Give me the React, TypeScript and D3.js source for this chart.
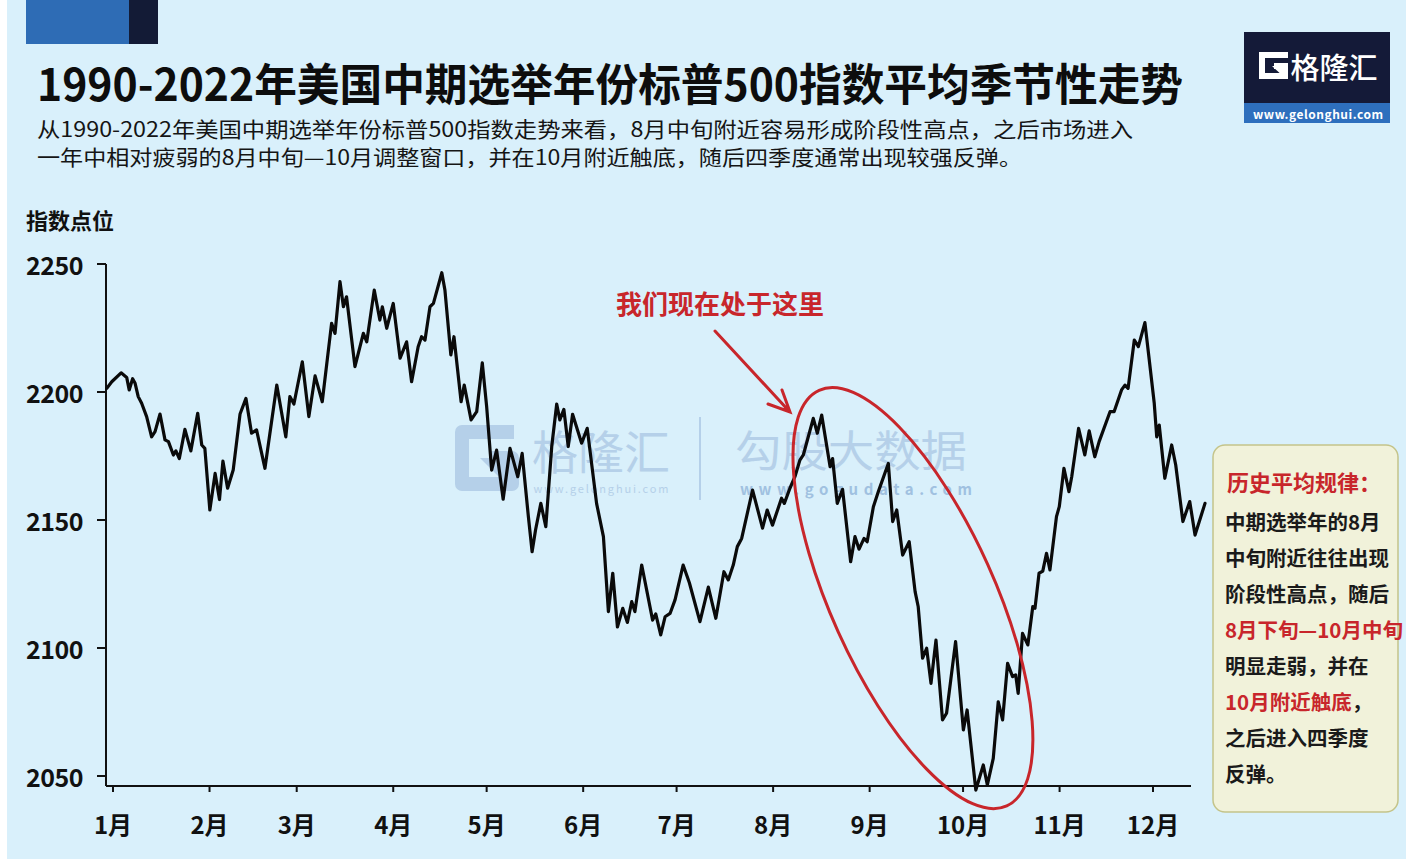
import { useRef, useEffect } from "react";
import * as d3 from "d3";

const MONTHS = ["1月", "2月", "3月", "4月", "5月", "6月", "7月", "8月", "9月", "10月", "11月", "12月"];
const MONTH_START = [0, 31, 59, 90, 120, 151, 181, 212, 243, 273, 304, 334];
const Y_TICKS = [2050, 2100, 2150, 2200, 2250];

// day of year (0 = Jan 1) and average index level
const dayOfYear = [
  -2.0, -0.4, 2.6, 4.4, 5.2, 6.3, 7.1, 8.1, 9.2, 10.8, 12.4, 13.5, 15.1, 16.7, 17.8, 19.4, 20.2, 21.3, 23.1, 25.0,
  27.2, 28.5, 29.5, 31.1, 32.8, 34.2, 35.3, 36.8, 38.6, 40.8, 42.7, 44.5, 46.1, 48.8, 52.6, 55.5, 56.8, 58.1, 60.8, 62.9,
  64.9, 67.2, 70.2, 71.3, 72.9, 74.0, 75.0, 77.7, 80.4, 81.5, 83.9, 85.7, 86.5, 87.9, 90.0, 92.2, 94.3, 95.9, 98.0, 99.1,
  100.2, 101.8, 102.9, 105.6, 106.6, 108.5, 109.5, 111.8, 112.8, 115.0, 116.8, 118.6, 120.0, 121.6, 123.2, 125.3, 127.5, 130.0, 131.4, 133.4,
  134.6, 135.7, 137.4, 139.0, 140.9, 142.5, 143.5, 144.8, 146.2, 147.6, 150.5, 152.3, 155.3, 157.5, 159.1, 160.5, 162.0, 163.7, 165.2, 166.6,
  167.6, 169.8, 173.3, 174.3, 175.9, 177.3, 178.9, 180.5, 183.1, 185.1, 188.5, 191.2, 193.6, 196.2, 197.6, 199.2, 200.5, 201.9, 205.4, 208.6,
  210.1, 211.8, 214.7, 215.6, 217.4, 219.0, 220.6, 221.7, 224.9, 226.2, 227.6, 230.3, 231.1, 232.6, 234.3, 236.9, 238.3, 239.6, 241.2, 242.2,
  244.2, 245.8, 249.0, 250.4, 251.7, 253.6, 255.7, 257.6, 258.6, 260.0, 261.3, 262.7, 264.3, 266.4, 267.7, 270.6, 273.1, 274.3, 277.1, 279.5,
  280.8, 282.7, 284.3, 285.7, 287.3, 288.9, 289.9, 290.7, 292.1, 293.8, 295.4, 296.1, 297.4, 298.6, 299.8, 300.9, 303.0, 303.9, 305.4, 307.0,
  307.9, 310.1, 312.1, 313.5, 315.3, 316.7, 320.2, 321.5, 323.9, 325.0, 326.0, 328.0, 329.3, 331.4, 332.8, 334.4, 335.2, 336.0, 337.8, 340.0,
  341.3, 343.6, 345.8, 347.5, 350.7,
];
const indexLevel = [
  2201.4, 2204.0, 2207.5, 2205.7, 2200.8, 2205.2, 2203.4, 2198.2, 2195.6, 2190.4, 2182.5, 2184.5, 2191.4, 2181.3, 2180.6, 2175.4, 2177.0, 2174.0, 2185.4, 2177.0,
  2191.7, 2179.3, 2178.0, 2153.9, 2168.2, 2158.0, 2173.0, 2162.4, 2169.5, 2191.4, 2197.5, 2183.9, 2185.2, 2170.2, 2202.7, 2182.5, 2198.2, 2195.3, 2211.8, 2190.4,
  2206.3, 2196.2, 2226.8, 2222.9, 2243.1, 2233.3, 2237.2, 2209.9, 2222.9, 2219.6, 2239.8, 2228.1, 2233.3, 2224.9, 2234.6, 2213.2, 2219.6, 2204.0, 2217.7, 2221.6,
  2220.3, 2233.3, 2234.6, 2246.6, 2239.8, 2214.5, 2221.6, 2196.2, 2202.7, 2189.1, 2192.3, 2211.4, 2194.3, 2169.5, 2177.3, 2158.1, 2178.0, 2166.9, 2176.0, 2151.3,
  2137.6, 2146.1, 2156.5, 2147.4, 2178.7, 2195.3, 2189.1, 2193.2, 2178.7, 2191.3, 2180.0, 2185.8, 2156.5, 2143.5, 2114.2, 2129.2, 2108.2, 2115.5, 2110.0, 2118.1,
  2114.2, 2132.4, 2110.9, 2113.3, 2105.1, 2112.2, 2113.5, 2118.8, 2132.4, 2125.5, 2110.3, 2123.8, 2111.6, 2129.8, 2126.6, 2132.4, 2139.6, 2142.8, 2161.7, 2146.8,
  2153.9, 2148.0, 2158.5, 2156.5, 2162.4, 2166.9, 2173.4, 2175.4, 2189.7, 2183.9, 2191.0, 2170.8, 2174.0, 2156.5, 2162.0, 2133.7, 2143.5, 2138.6, 2142.8, 2141.5,
  2155.2, 2161.1, 2172.1, 2149.4, 2153.9, 2136.3, 2141.5, 2122.0, 2116.1, 2096.0, 2099.9, 2086.2, 2103.1, 2071.9, 2074.5, 2102.5, 2068.0, 2075.8, 2044.5, 2054.3,
  2046.5, 2056.9, 2079.0, 2071.9, 2094.0, 2088.8, 2089.5, 2082.3, 2105.7, 2101.2, 2116.2, 2115.5, 2129.2, 2130.0, 2137.0, 2130.5, 2151.3, 2155.2, 2170.2, 2161.1,
  2166.9, 2185.8, 2175.4, 2184.8, 2174.7, 2180.6, 2192.3, 2192.3, 2200.8, 2202.7, 2201.4, 2220.3, 2217.7, 2227.1, 2212.5, 2195.6, 2182.5, 2187.1, 2166.3, 2179.3,
  2171.5, 2149.4, 2157.2, 2144.1, 2156.5,
];

const TITLE = "1990-2022年美国中期选举年份标普500指数平均季节性走势";
const SUB1 = "从1990-2022年美国中期选举年份标普500指数走势来看，8月中旬附近容易形成阶段性高点，之后市场进入";
const SUB2 = "一年中相对疲弱的8月中旬—10月调整窗口，并在10月附近触底，随后四季度通常出现较强反弹。";
const Y_LABEL = "指数点位";
const NOTE = "我们现在处于这里";
const BOX_TITLE = "历史平均规律：";
// [text, red?] segments per line
const BOX_LINES: [string, boolean][][] = [
  [["中期选举年的8月", false]],
  [["中旬附近往往出现", false]],
  [["阶段性高点，随后", false]],
  [["8月下旬—10月中旬", true]],
  [["明显走弱，并在", false]],
  [["10月附近触底", true], ["，", false]],
  [["之后进入四季度", false]],
  [["反弹。", false]],
];

const FONT = "'Noto Sans CJK SC', 'Noto Sans', sans-serif";
const RED = "#c8262b";
const BG = "#d9f0fb";
const WM = "#a9c6e3";

export default function App() {
  const ref = useRef<SVGSVGElement>(null);

  useEffect(() => {
    if (!ref.current) return;
    const W = 1406, H = 859;
    const svg = d3.select(ref.current);
    svg.selectAll("*").remove();

    const left = 106, right = 1191, bottom = 786;
    const x = d3.scaleLinear().domain([0, 334]).range([113, 1153]);
    const y = d3.scaleLinear().domain([2050, 2250]).range([776, 264]);

    svg.append("rect").attr("width", W).attr("height", H).attr("fill", "#ffffff");
    svg.append("rect").attr("x", 7).attr("width", W - 7).attr("height", H).attr("fill", BG);

    // header blocks
    svg.append("rect").attr("x", 26).attr("y", 0).attr("width", 103).attr("height", 44).attr("fill", "#2e6cb5");
    svg.append("rect").attr("x", 129).attr("y", 0).attr("width", 29).attr("height", 44).attr("fill", "#131b36");

    svg.append("text").attr("x", 37).attr("y", 82).attr("dominant-baseline", "central")
      .attr("font-family", FONT).attr("font-size", 44).attr("font-weight", 700).attr("fill", "#0d0d0d")
      .attr("textLength", 1146).attr("lengthAdjust", "spacingAndGlyphs").text(TITLE);
    svg.append("text").attr("x", 37).attr("y", 128).attr("dominant-baseline", "central")
      .attr("font-family", FONT).attr("font-size", 21).attr("fill", "#151515")
      .attr("textLength", 1096).attr("lengthAdjust", "spacingAndGlyphs").text(SUB1);
    svg.append("text").attr("x", 37).attr("y", 156).attr("dominant-baseline", "central")
      .attr("font-family", FONT).attr("font-size", 21).attr("fill", "#151515")
      .attr("textLength", 985).attr("lengthAdjust", "spacingAndGlyphs").text(SUB2);

    // logo
    const logo = svg.append("g");
    logo.append("rect").attr("x", 1244).attr("y", 32).attr("width", 146).attr("height", 71).attr("fill", "#141a38");
    logo.append("rect").attr("x", 1244).attr("y", 103).attr("width", 146).attr("height", 20).attr("fill", "#2e6fbd");
    logo.append("path").attr("d", "M1288,55 L1262,55 L1262,76 L1285,76 L1285,66 L1274,66")
      .attr("fill", "none").attr("stroke", "#fff").attr("stroke-width", 6).attr("stroke-linejoin", "miter");
    logo.append("path").attr("d", "M1272,66 L1285,66 L1285,78 Z").attr("fill", "#fff");
    logo.append("text").attr("x", 1334).attr("y", 66).attr("text-anchor", "middle").attr("dominant-baseline", "central")
      .attr("font-family", FONT).attr("font-size", 29).attr("font-weight", 500).attr("fill", "#fff").text("格隆汇");
    logo.append("text").attr("x", 1318).attr("y", 113).attr("text-anchor", "middle").attr("dominant-baseline", "central")
      .attr("font-family", FONT).attr("font-size", 12).attr("font-weight", 700).attr("fill", "#fff")
      .attr("textLength", 130).attr("lengthAdjust", "spacing").text("www.gelonghui.com");

    // watermark
    const wm = svg.append("g").attr("opacity", 0.75);
    wm.append("path").attr("d", "M514,432 L462,432 L462,484 L512,484 L512,458 L490,458")
      .attr("fill", "none").attr("stroke", WM).attr("stroke-width", 14).attr("stroke-linejoin", "round");
    wm.append("path").attr("d", "M480,458 L512,458 L512,490 Z").attr("fill", WM);
    wm.append("text").attr("x", 601).attr("y", 449).attr("text-anchor", "middle").attr("dominant-baseline", "central")
      .attr("font-family", FONT).attr("font-size", 46).attr("fill", WM)
      .attr("textLength", 138).attr("lengthAdjust", "spacingAndGlyphs").text("格隆汇");
    wm.append("text").attr("x", 601).attr("y", 488).attr("text-anchor", "middle").attr("dominant-baseline", "central")
      .attr("font-family", FONT).attr("font-size", 11).attr("fill", WM)
      .attr("textLength", 135).attr("lengthAdjust", "spacing").text("www.gelonghui.com");
    wm.append("line").attr("x1", 700).attr("x2", 700).attr("y1", 417).attr("y2", 500).attr("stroke", WM).attr("stroke-width", 2);
    wm.append("text").attr("x", 851).attr("y", 448).attr("text-anchor", "middle").attr("dominant-baseline", "central")
      .attr("font-family", FONT).attr("font-size", 43).attr("fill", WM)
      .attr("textLength", 232).attr("lengthAdjust", "spacingAndGlyphs").text("勾股大数据");
    wm.append("text").attr("x", 856).attr("y", 488).attr("text-anchor", "middle").attr("dominant-baseline", "central")
      .attr("font-family", FONT).attr("font-size", 15).attr("font-weight", 700).attr("fill", "#8eb2d8")
      .attr("textLength", 232).attr("lengthAdjust", "spacing").text("www.gogudata.com");

    // axes
    const axisColor = "#111";
    svg.append("text").attr("x", 26).attr("y", 219).attr("dominant-baseline", "central")
      .attr("font-family", FONT).attr("font-size", 22).attr("font-weight", 700).attr("fill", "#111").text(Y_LABEL);
    svg.append("line").attr("x1", left).attr("x2", left).attr("y1", y(2250)).attr("y2", bottom)
      .attr("stroke", axisColor).attr("stroke-width", 2);
    svg.append("line").attr("x1", left).attr("x2", right).attr("y1", bottom).attr("y2", bottom)
      .attr("stroke", axisColor).attr("stroke-width", 2);
    Y_TICKS.forEach((v) => {
      svg.append("line").attr("x1", left - 9).attr("x2", left).attr("y1", y(v)).attr("y2", y(v))
        .attr("stroke", axisColor).attr("stroke-width", 2);
      svg.append("text").attr("x", 83).attr("y", y(v)).attr("text-anchor", "end").attr("dominant-baseline", "central")
        .attr("font-family", FONT).attr("font-size", 25).attr("font-weight", 700).attr("fill", "#111")
        .attr("letter-spacing", -0.5).text(v);
    });
    MONTHS.forEach((m, i) => {
      const xm = x(MONTH_START[i]);
      svg.append("line").attr("x1", xm).attr("x2", xm).attr("y1", bottom).attr("y2", bottom + 6)
        .attr("stroke", axisColor).attr("stroke-width", 2);
      svg.append("text").attr("x", xm).attr("y", 823).attr("text-anchor", "middle").attr("dominant-baseline", "central")
        .attr("font-family", FONT).attr("font-size", 24).attr("font-weight", 700).attr("fill", "#111").text(m);
    });

    // series
    const pts = dayOfYear.map((d, i) => [d, indexLevel[i]] as [number, number]);
    const line = d3.line<[number, number]>().x((d) => x(d[0])).y((d) => y(d[1]));
    svg.append("path").attr("d", line(pts)).attr("fill", "none").attr("stroke", "#0a0a0a")
      .attr("stroke-width", 3.2).attr("stroke-linejoin", "round").attr("stroke-linecap", "round");

    // annotation: ellipse around the Aug–Oct decline
    svg.append("ellipse").attr("cx", x(256.9)).attr("cy", y(2119.5)).attr("rx", 228).attr("ry", 82)
      .attr("transform", `rotate(65.7 ${x(256.9)} ${y(2119.5)})`)
      .attr("fill", "none").attr("stroke", RED).attr("stroke-width", 3);
    svg.append("text").attr("x", 720).attr("y", 302).attr("text-anchor", "middle").attr("dominant-baseline", "central")
      .attr("font-family", FONT).attr("font-size", 26).attr("font-weight", 700).attr("fill", RED).text(NOTE);
    svg.append("path").attr("d", "M715,331 L789,411 M768,404 L790,412 L782,390")
      .attr("fill", "none").attr("stroke", RED).attr("stroke-width", 3).attr("stroke-linecap", "round").attr("stroke-linejoin", "miter");

    // side note box
    svg.append("rect").attr("x", 1213).attr("y", 445).attr("width", 185).attr("height", 367).attr("rx", 12)
      .attr("fill", "#f1f2da").attr("stroke", "#c4c48a").attr("stroke-width", 1.5);
    svg.append("text").attr("x", 1304).attr("y", 481).attr("text-anchor", "middle").attr("dominant-baseline", "central")
      .attr("font-family", FONT).attr("font-size", 22).attr("font-weight", 700).attr("fill", RED).text(BOX_TITLE);
    BOX_LINES.forEach((segs, i) => {
      const t = svg.append("text").attr("x", 1225).attr("y", 521 + i * 36).attr("dominant-baseline", "central")
        .attr("font-family", FONT).attr("font-size", 20.5).attr("font-weight", 700);
      segs.forEach(([s, red]) => t.append("tspan").attr("fill", red ? RED : "#1a1a1a").text(s));
    });
  }, []);

  return (
    <div style={{ position: "absolute", left: 0, top: 0 }}>
      <svg ref={ref} width={1406} height={859} style={{ display: "block" }} />
    </div>
  );
}
